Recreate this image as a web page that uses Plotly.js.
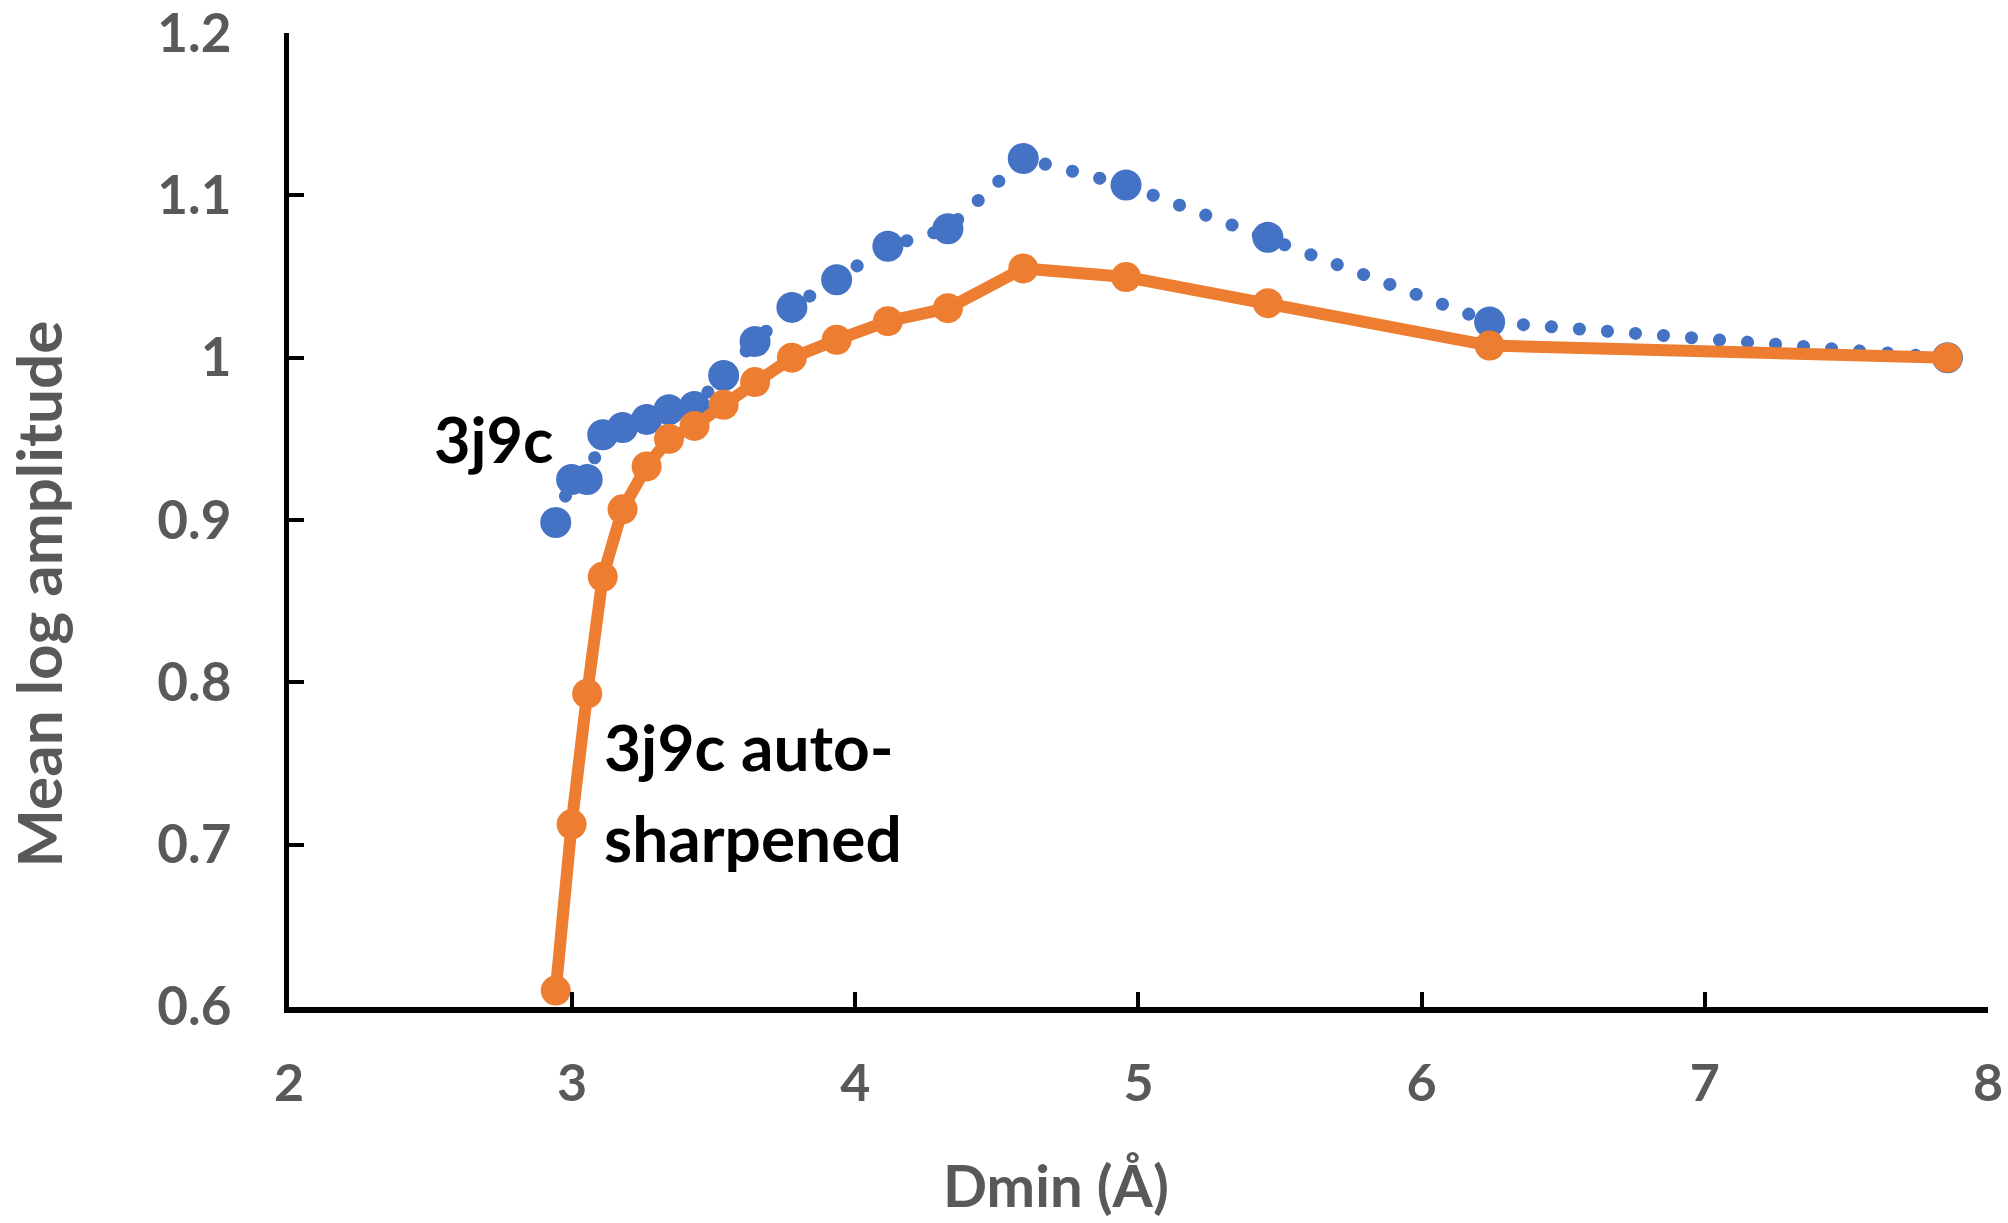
<!DOCTYPE html>
<html>
<head>
<meta charset="utf-8">
<script src="https://cdn.plot.ly/plotly-3.0.1.min.js"></script>
<style>html,body{margin:0;padding:0;background:#fff;}#chart{width:2008px;height:1223px;}</style>
</head>
<body>
<div id="chart"></div>
<script>
// Resolution (Dmin, Å)
const dmin = [2.942, 2.998, 3.053, 3.108, 3.178, 3.263, 3.342, 3.432, 3.535, 3.646, 3.776, 3.934, 4.115, 4.327, 4.593, 4.956, 5.457, 6.24, 7.857];
// 3j9c (blue, dotted)
const amp3j9c = [0.8985, 0.925, 0.925, 0.9525, 0.957, 0.962, 0.968, 0.970, 0.989, 1.010, 1.031, 1.048, 1.0687, 1.0795, 1.1228, 1.1064, 1.0742, 1.022, 1.0];
// 3j9c auto-sharpened (orange, solid)
const ampSharp = [0.61, 0.7125, 0.793, 0.865, 0.9066, 0.933, 0.950, 0.958, 0.971, 0.985, 1.0, 1.011, 1.0225, 1.0305, 1.055, 1.0497, 1.0336, 1.0075, 1.0];
const xTicks = [2, 3, 4, 5, 6, 7, 8];
const yTicks = [0.6, 0.7, 0.8, 0.9, 1.0, 1.1, 1.2];
const yTickText = ["0.6", "0.7", "0.8", "0.9", "1", "1.1", "1.2"];

const FONT = "Lato, 'Open Sans', sans-serif";
const GRAY = "#595959";

const traces = [
  {
    x: dmin, y: amp3j9c, type: "scatter", mode: "lines+markers", name: "3j9c",
    line: {color: "#4472C4", width: 13, dash: "0.1px,28px"},
    marker: {color: "#4472C4", size: 31},
    cliponaxis: false, showlegend: false
  },
  {
    x: dmin, y: ampSharp, type: "scatter", mode: "lines+markers", name: "3j9c auto-sharpened",
    line: {color: "#ED7D31", width: 12},
    marker: {color: "#ED7D31", size: 30},
    cliponaxis: false, showlegend: false
  }
];

const layout = {
  width: 2008, height: 1223,
  margin: {l: 289, r: 20, t: 33, b: 216, pad: 0},
  paper_bgcolor: "#fff", plot_bgcolor: "#fff",
  showlegend: false,
  font: {family: FONT, color: GRAY},
  xaxis: {
    range: [2, 8.0001], tickvals: xTicks, ticktext: xTicks.map(String),
    showgrid: false, zeroline: false,
    showline: true, linecolor: "#000", linewidth: 6,
    ticks: "inside", ticklen: 15, tickwidth: 4, tickcolor: "#000",
    ticklabelstandoff: 26, ticklabeloverflow: "allow",
    tickfont: {family: FONT, size: 52, color: GRAY, weight: "bold"}
  },
  yaxis: {
    range: [0.5999, 1.2001], tickvals: yTicks, ticktext: yTickText,
    showgrid: false, zeroline: false,
    showline: true, linecolor: "#000", linewidth: 5,
    ticks: "inside", ticklen: 15, tickwidth: 4, tickcolor: "#000",
    ticklabelstandoff: 42, ticklabeloverflow: "allow",
    tickfont: {family: FONT, size: 53, color: GRAY, weight: "bold"}
  },
  annotations: [
    {text: "Dmin (Å)", xref: "paper", yref: "paper", x: 0.4514, y: -0.182,
     xanchor: "center", yanchor: "middle", showarrow: false,
     font: {family: FONT, size: 58, color: GRAY, weight: "bold"}},
    {text: "Mean log amplitude", xref: "paper", yref: "paper", x: -0.148, y: 0.424,
     xanchor: "center", yanchor: "middle", textangle: -90, showarrow: false,
     font: {family: FONT, size: 62, color: GRAY, weight: "bold"}},
    {text: "3j9c", xref: "x", yref: "y", x: 2.505, y: 0.950,
     xanchor: "left", yanchor: "middle", showarrow: false,
     font: {family: FONT, size: 63, color: "#000", weight: "bold"}},
    {text: "3j9c auto-", xref: "x", yref: "y", x: 3.105, y: 0.7602,
     xanchor: "left", yanchor: "middle", showarrow: false,
     font: {family: FONT, size: 64, color: "#000", weight: "bold"}},
    {text: "sharpened", xref: "x", yref: "y", x: 3.105, y: 0.7046,
     xanchor: "left", yanchor: "middle", showarrow: false,
     font: {family: FONT, size: 64, color: "#000", weight: "bold"}}
  ]
};

Plotly.newPlot("chart", traces, layout, {displayModeBar: false, staticPlot: true}).then(function(gd){
  const paths = gd.querySelectorAll(".scatterlayer .trace")[0].querySelectorAll("path.js-line");
  paths.forEach(function(p){ p.style.strokeLinecap = "round"; });
});
</script>
</body>
</html>
